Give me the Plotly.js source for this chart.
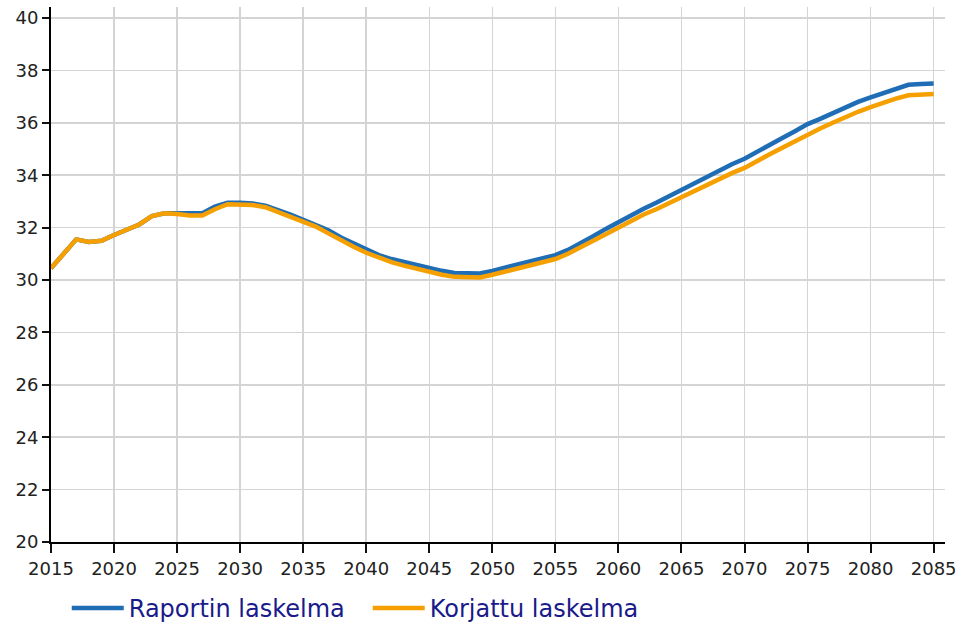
<!DOCTYPE html>
<html>
<head>
<meta charset="utf-8">
<script src="https://cdn.plot.ly/plotly-3.0.1.min.js"></script>
<style>html,body{margin:0;padding:0;background:#fff;}#chart{width:970px;height:624px;}</style>
</head>
<body>
<div id="chart"></div>
<script>
const years = [];
for (let y = 2015; y <= 2085; y++) years.push(y);

const seriesNames = ["Raportin laskelma", "Korjattu laskelma"];

const raportin = [
  30.45, 31.0, 31.55, 31.45, 31.5, 31.72, 31.9, 32.12, 32.44, 32.55,
  32.55, 32.55, 32.55, 32.8, 32.95, 32.95, 32.92, 32.84, 32.68, 32.5,
  32.3, 32.1, 31.9, 31.62, 31.4, 31.14, 30.95, 30.8, 30.68, 30.57,
  30.45, 30.35, 30.27, 30.25, 30.25, 30.35, 30.47, 30.58, 30.72, 30.82,
  30.95, 31.15, 31.4, 31.67, 31.95, 32.22, 32.48, 32.72, 32.95, 33.2,
  33.45, 33.7, 33.95, 34.2, 34.42, 34.63, 34.88, 35.15, 35.42, 35.68,
  35.95, 36.15, 36.38, 36.6, 36.8, 36.97, 37.12, 37.28, 37.45, 37.48,
  37.5
];

const korjattu = [
  30.45, 31.0, 31.55, 31.45, 31.5, 31.72, 31.9, 32.12, 32.44, 32.55,
  32.52, 32.46, 32.46, 32.7, 32.89, 32.89, 32.86, 32.78, 32.6, 32.42,
  32.23, 32.04, 31.78, 31.5, 31.27, 31.04, 30.85, 30.68, 30.55, 30.42,
  30.3, 30.2, 30.12, 30.1, 30.1, 30.2, 30.32, 30.43, 30.55, 30.67,
  30.8, 31.0, 31.23, 31.5, 31.75, 32.0, 32.25, 32.5, 32.7, 32.93,
  33.15, 33.4, 33.65, 33.87, 34.08, 34.28, 34.52, 34.8, 35.05, 35.3,
  35.56, 35.78, 36.0, 36.22, 36.42, 36.6, 36.77, 36.92, 37.05, 37.08,
  37.1
];

const xTicks = [2015, 2020, 2025, 2030, 2035, 2040, 2045, 2050, 2055, 2060, 2065, 2070, 2075, 2080, 2085];
const yTicks = [20, 22, 24, 26, 28, 30, 32, 34, 36, 38, 40];

const traces = [
  {x: years, y: raportin, name: seriesNames[0], type: "scatter", mode: "lines",
   line: {color: "#1f6db5", width: 4.5}},
  {x: years, y: korjattu, name: seriesNames[1], type: "scatter", mode: "lines",
   line: {color: "#f5a000", width: 4.5}}
];

const font = "DejaVu Sans, Verdana, sans-serif";

const layout = {
  width: 970, height: 624,
  margin: {l: 51, r: 24.5, t: 7, b: 82, pad: 0, autoexpand: false},
  paper_bgcolor: "#fff", plot_bgcolor: "#fff",
  font: {family: font, size: 18, color: "#222"},
  showlegend: true,
  xaxis: {
    range: [2015, 2085.9], tickvals: xTicks, ticktext: xTicks.map(String),
    showgrid: true, gridcolor: "#d4d4d4", gridwidth: 1.5,
    showline: true, linecolor: "#000", linewidth: 2,
    ticks: "outside", ticklen: 9, tickwidth: 2, tickcolor: "#111",
    zeroline: false, automargin: false, tickfont: {family: font, size: 18, color: "#222"}
  },
  yaxis: {
    range: [20, 40.42], tickvals: yTicks, ticktext: yTicks.map(String),
    showgrid: true, gridcolor: "#d4d4d4", gridwidth: 1.5,
    showline: true, linecolor: "#000", linewidth: 2,
    ticks: "outside", ticklen: 7, tickwidth: 2, tickcolor: "#111",
    zeroline: false, automargin: false, tickfont: {family: font, size: 18, color: "#222"}
  },
  legend: {
    orientation: "h",
    xref: "container", yref: "container",
    x: 0.0688, xanchor: "left", y: 0.025, yanchor: "middle",
    font: {family: font, size: 24, color: "#1a1a8a"},
    itemwidth: 52, entrywidth: 234, entrywidthmode: "pixels",
    bgcolor: "rgba(0,0,0,0)"
  }
};

Plotly.newPlot("chart", traces, layout, {displayModeBar: false, staticPlot: true});
</script>
</body>
</html>
